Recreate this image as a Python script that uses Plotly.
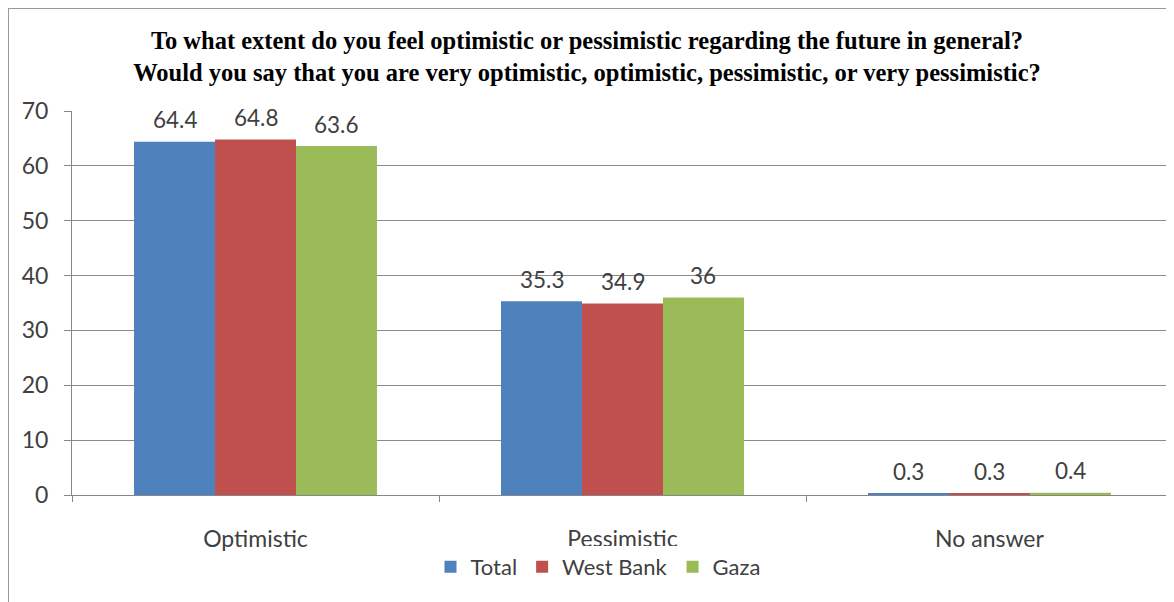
import plotly.graph_objects as go

categories = ["Optimistic", "Pessimistic", "No answer"]
total = [64.4, 35.3, 0.3]
west_bank = [64.8, 34.9, 0.3]
gaza = [63.6, 36, 0.4]
series_names = ["Total", "West Bank", "Gaza"]
colors = ["#4F81BD", "#C0504D", "#9BBB59"]
y_ticks = [0, 10, 20, 30, 40, 50, 60, 70]

title_text = ("<b>To what extent do you feel optimistic or pessimistic regarding the future in general?<br>"
              "Would you say that you are very optimistic, optimistic, pessimistic, or very pessimistic?</b>")

W, H = 1174, 602
OFF = 8  # page body margin
L, R, T, B = 72 - OFF, 1 + OFF, 111 - OFF, 107 + OFF
PW = W - L - R
PH = H - T - B
FONT = "Lato, Open Sans, sans-serif"
TXT = "#404040"

fig = go.Figure()
all_series = [total, west_bank, gaza]
for name, vals, col in zip(series_names, all_series, colors):
    fig.add_trace(go.Bar(
        x=categories, y=vals, name=name, marker_color=col, marker_line_width=0,
    ))

# value labels above bars (offset per series within the group)
cat_px = PW / len(categories)
bar_px = cat_px * (1 - 0.338) / len(series_names)
for i, vals in enumerate(all_series):
    for c, v in zip(categories, vals):
        fig.add_annotation(x=c, y=v, text=f"{v:g}", showarrow=False,
                           xshift=(i - 1) * bar_px, yshift=22, yanchor="middle",
                           font=dict(family=FONT, size=22.5, color=TXT))

fig.update_layout(
    width=W, height=H,
    margin=dict(l=L, r=R, t=T, b=B, autoexpand=False),
    paper_bgcolor="white", plot_bgcolor="white",
    barmode="group", bargap=0.338, bargroupgap=0,
    title=dict(text=title_text, x=(587 - 72) / PW, xanchor="center",
               xref="paper", y=1 - 41 / H, yanchor="middle",
               font=dict(family="Liberation Serif, Times New Roman, serif", size=24.5, color="black")),
    legend=dict(orientation="h", x=(598 - 72) / PW, xanchor="center",
                y=(495 - 567) / PH, yanchor="middle",
                font=dict(family=FONT, size=22, color=TXT),
                itemwidth=30, traceorder="normal"),
    font=dict(family=FONT, size=22, color=TXT),
    showlegend=True,
)
fig.update_xaxes(
    automargin=False,
    showline=True, linecolor="#868686", linewidth=1,
    ticks="outside", tickson="boundaries", ticklen=6, tickcolor="#868686",
    tickfont=dict(family=FONT, size=23, color=TXT), showgrid=False,
    ticklabelstandoff=23,
)
fig.update_yaxes(
    automargin=False,
    range=[0, 70], tickvals=y_ticks, showline=True, linecolor="#868686", linewidth=1,
    ticks="outside", ticklen=7, tickcolor="#868686", showgrid=True, gridcolor="#8a8a8a",
    gridwidth=1, tickfont=dict(family=FONT, size=23, color=TXT), zeroline=False,
    ticklabelstandoff=11,
)
# chart border (top and left)
ytop = 1 + (111 - 8) / PH
xleft = (8 - 72) / PW
fig.add_shape(type="line", xref="paper", yref="paper",
              x0=xleft, x1=1.02, y0=ytop, y1=ytop,
              line=dict(color="#9a9a9a", width=2))
fig.add_shape(type="line", xref="paper", yref="paper",
              x0=xleft, x1=xleft, y0=ytop, y1=-0.3,
              line=dict(color="#9a9a9a", width=2))

fig.write_html("out.html")
